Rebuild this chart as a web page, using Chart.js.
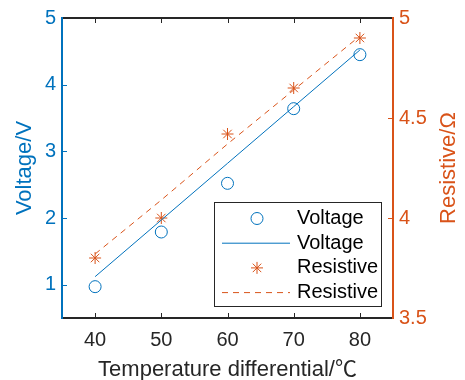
<!DOCTYPE html>
<html>
<head>
<meta charset="utf-8">
<script src="https://cdn.jsdelivr.net/npm/chart.js@4.4.0/dist/chart.umd.min.js"></script>
<style>
  html, body { margin: 0; padding: 0; background: #fff; }
  #wrap { width: 465px; height: 380px; }
</style>
</head>
<body>
<div id="wrap"><canvas id="chart" width="465" height="380"></canvas></div>
<script>
const temps = [40, 50, 60, 70, 80];
const voltage = [0.97, 1.79, 2.52, 3.64, 4.45];
const voltageFit = [1.12, 1.97, 2.82, 3.67, 4.52];
const resistive = [3.80, 4.00, 4.42, 4.65, 4.90];
const resistiveFit = [3.82, 4.09, 4.37, 4.64, 4.91];
const xTicks = [40, 50, 60, 70, 80];
const voltTicks = [1, 2, 3, 4, 5];
const resTicks = [3.5, 4, 4.5, 5];

const BLUE = '#0072BD';
const ORANGE = '#D95319';
const DARK = '#262626';
const FONT = "'Liberation Sans', Arial, 'Noto Sans CJK SC', sans-serif";

function pts(ys) {
  return temps.map((x, i) => ({ x: x, y: ys[i] }));
}

function seg(ctx, x1, y1, x2, y2) {
  ctx.beginPath();
  ctx.moveTo(x1, y1);
  ctx.lineTo(x2, y2);
  ctx.stroke();
}

// box around the plot, ticks pointing inward like matlab
const frame = {
  id: 'frame',
  afterDatasetsDraw(chart) {
    const { ctx, chartArea: a, scales } = chart;
    ctx.save();
    ctx.lineWidth = 1;
    ctx.strokeStyle = DARK;
    xTicks.forEach(v => {
      const px = Math.round(scales.x.getPixelForValue(v)) + 0.5;
      seg(ctx, px, a.bottom, px, a.bottom - 5);
      seg(ctx, px, a.top, px, a.top + 5);
    });
    ctx.strokeStyle = BLUE;
    voltTicks.forEach(v => {
      const py = Math.round(scales.y.getPixelForValue(v)) + 0.5;
      seg(ctx, a.left, py, a.left + 5, py);
    });
    ctx.strokeStyle = ORANGE;
    resTicks.forEach(v => {
      const py = Math.round(scales.y1.getPixelForValue(v)) + 0.5;
      seg(ctx, a.right, py, a.right - 5, py);
    });

    ctx.lineWidth = 2;
    ctx.strokeStyle = DARK;
    seg(ctx, a.left, a.top, a.right, a.top);
    seg(ctx, a.left, a.bottom, a.right, a.bottom);
    ctx.strokeStyle = BLUE;
    seg(ctx, a.left, a.top - 1, a.left, a.bottom + 1);
    ctx.strokeStyle = ORANGE;
    seg(ctx, a.right, a.top - 1, a.right, a.bottom + 1);

    // right axis title, reads bottom to top
    ctx.translate(a.right + 56, (a.top + a.bottom) / 2);
    ctx.rotate(-Math.PI / 2);
    ctx.font = '22px ' + FONT;
    ctx.fillStyle = ORANGE;
    ctx.textAlign = 'center';
    ctx.textBaseline = 'middle';
    ctx.fillText('Resistive/Ω', 0, 0);
    ctx.restore();
  }
};

// legend box inside the axes (south east)
const boxLegend = {
  id: 'boxLegend',
  afterDraw(chart) {
    const { ctx, chartArea: a } = chart;
    const w = 167, h = 104;
    const left = a.right - 12 - w;
    const top = a.bottom - 12 - h;
    ctx.save();
    ctx.fillStyle = '#fff';
    ctx.fillRect(left, top, w, h);
    ctx.strokeStyle = DARK;
    ctx.lineWidth = 1;
    ctx.strokeRect(left + 0.5, top + 0.5, w, h);

    chart.data.datasets.forEach((ds, i) => {
      const y = top + 16.5 + i * 24.7;
      ctx.strokeStyle = ds.borderColor;
      ctx.lineWidth = 1;
      if (ds.showLine) {
        ctx.setLineDash(ds.borderDash || []);
        seg(ctx, left + 8, y, left + 76, y);
        ctx.setLineDash([]);
      } else if (ds.pointStyle === 'circle') {
        ctx.beginPath();
        ctx.arc(left + 43, y, 6, 0, Math.PI * 2);
        ctx.stroke();
      } else {
        const r = 6, d = r * Math.SQRT1_2, cx = left + 43;
        seg(ctx, cx - r, y, cx + r, y);
        seg(ctx, cx, y - r, cx, y + r);
        seg(ctx, cx - d, y - d, cx + d, y + d);
        seg(ctx, cx - d, y + d, cx + d, y - d);
      }
      ctx.fillStyle = '#000';
      ctx.font = '20px ' + FONT;
      ctx.textAlign = 'left';
      ctx.textBaseline = 'middle';
      ctx.fillText(ds.label, left + 83, y);
    });
    ctx.restore();
  }
};

new Chart(document.getElementById('chart'), {
  type: 'scatter',
  data: {
    datasets: [
      {
        label: 'Voltage',
        data: pts(voltage),
        yAxisID: 'y',
        pointStyle: 'circle',
        pointRadius: 6,
        pointBorderWidth: 1,
        borderColor: BLUE,
        backgroundColor: 'rgba(0,0,0,0)',
        showLine: false
      },
      {
        label: 'Voltage',
        data: pts(voltageFit),
        yAxisID: 'y',
        pointRadius: 0,
        borderWidth: 1,
        borderColor: BLUE,
        showLine: true
      },
      {
        label: 'Resistive',
        data: pts(resistive),
        yAxisID: 'y1',
        pointStyle: 'star',
        pointRadius: 6,
        pointBorderWidth: 1,
        borderColor: ORANGE,
        backgroundColor: ORANGE,
        showLine: false
      },
      {
        label: 'Resistive',
        data: pts(resistiveFit),
        yAxisID: 'y1',
        pointRadius: 0,
        borderWidth: 1,
        borderColor: ORANGE,
        borderDash: [6, 5],
        showLine: true
      }
    ]
  },
  options: {
    responsive: false,
    animation: false,
    layout: { padding: { top: 16, left: 0, right: 0, bottom: 0 } },
    plugins: {
      legend: { display: false },
      tooltip: { enabled: false }
    },
    scales: {
      x: {
        type: 'linear',
        position: 'bottom',
        min: 35,
        max: 85,
        afterBuildTicks: s => { s.ticks = xTicks.map(v => ({ value: v })); },
        afterFit: s => { s.height = 62; },
        grid: { display: false, drawTicks: false },
        border: { display: false },
        ticks: { color: DARK, padding: 10, font: { family: FONT, size: 20 } },
        title: {
          display: true,
          text: 'Temperature differential/℃',
          color: DARK,
          font: { family: FONT, size: 22 },
          padding: { top: 0, bottom: -3 }
        }
      },
      y: {
        type: 'linear',
        position: 'left',
        min: 0.5,
        max: 5,
        afterBuildTicks: s => { s.ticks = voltTicks.map(v => ({ value: v })); },
        afterFit: s => { s.width = 62; },
        grid: { display: false, drawTicks: false },
        border: { display: false },
        ticks: { color: BLUE, padding: 6, font: { family: FONT, size: 20 } },
        title: {
          display: true,
          text: 'Voltage/V',
          color: BLUE,
          font: { family: FONT, size: 22 },
          padding: { top: 12, bottom: 0 }
        }
      },
      y1: {
        type: 'linear',
        position: 'right',
        min: 3.5,
        max: 5,
        afterBuildTicks: s => { s.ticks = resTicks.map(v => ({ value: v })); },
        afterFit: s => { s.width = 72; },
        grid: { display: false, drawTicks: false },
        border: { display: false },
        ticks: {
          color: ORANGE,
          padding: 6,
          font: { family: FONT, size: 20 },
          callback: v => String(v)
        }
      }
    }
  },
  plugins: [frame, boxLegend]
});
</script>
</body>
</html>
